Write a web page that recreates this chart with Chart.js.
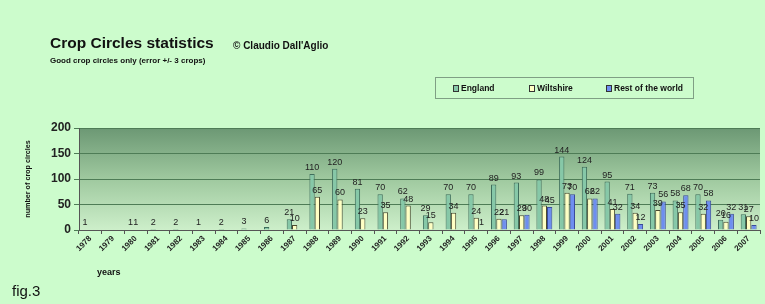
<!DOCTYPE html>
<html>
<head>
<meta charset="utf-8">
<script src="https://cdn.jsdelivr.net/npm/chart.js@4/dist/chart.umd.min.js"></script>
<style>
  html, body { margin: 0; padding: 0; background: #ccfccc; }
  body { width: 765px; height: 304px; position: relative; overflow: hidden; font-family: "Liberation Sans", Arial, sans-serif; }
  #c { position: absolute; left: 0; top: 0; }
  .t { position: absolute; white-space: nowrap; color: #111; font-weight: bold; }
  #legend { position: absolute; left: 435px; top: 77px; width: 259px; height: 22px; border: 1px solid #7f9f84; box-sizing: border-box; }
  .li { position: absolute; top: 5px; font-size: 8.5px; font-weight: bold; color: #111; white-space: nowrap; }
  .sw { display: inline-block; width: 4px; height: 5px; border: 1px solid #333; margin-right: 2px; vertical-align: -1px; }
</style>
</head>
<body>
<canvas id="c" width="765" height="304"></canvas>
<div class="t" style="left:50px; top:34px; font-size:15.5px;">Crop Circles statistics</div>
<div class="t" style="left:233px; top:40px; font-size:10px;">© Claudio Dall'Aglio</div>
<div class="t" style="left:50px; top:56px; font-size:8px;">Good crop circles only (error +/- 3 crops)</div>
<div id="legend">
  <div class="li" style="left:17px;"><span class="sw" style="background:#86c8a8"></span>England</div>
  <div class="li" style="left:93px;"><span class="sw" style="background:#ffffc4"></span>Wiltshire</div>
  <div class="li" style="left:170px;"><span class="sw" style="background:#6e8ef0"></span>Rest of the world</div>
</div>
<div class="t" style="left:97px; top:267px; font-size:9px;">years</div>
<div class="t" style="left:12px; top:282px; font-size:15px; font-weight:normal;">fig.3</div>
<script>
const years = ["1978","1979","1980","1981","1982","1983","1984","1985","1986","1987","1988","1989","1990","1991","1992","1993","1994","1995","1996","1997","1998","1999","2000","2001","2002","2003","2004","2005","2006","2007"];
const england   = [1,0,1,2,2,1,2,3,6,21,110,120,81,70,62,29,70,70,89,93,99,144,124,95,71,73,58,70,20,31];
const wiltshire = [0,0,1,0,0,0,0,0,0,10,65,60,23,35,48,15,34,24,22,29,48,73,62,41,34,39,35,32,16,27];
const restWorld = [0,0,0,0,0,0,0,0,0,0,0,0,0,0,0,0,0,1,21,30,45,70,62,32,12,56,68,58,32,10];
const yTicks = [0,50,100,150,200];

const bgPlugin = {
  id: 'bg',
  beforeDraw(chart) {
    const a = chart.chartArea, ctx = chart.ctx;
    const g = ctx.createLinearGradient(0, a.top, 0, a.bottom);
    g.addColorStop(0, '#6c9874');
    g.addColorStop(0.5, '#9fc99f');
    g.addColorStop(1, '#cdefca');
    ctx.save();
    ctx.fillStyle = g;
    ctx.fillRect(a.left, a.top, a.right - a.left, a.bottom - a.top);
    ctx.restore();
  }
};
const labelPlugin = {
  id: 'vals',
  afterDatasetsDraw(chart) {
    const ctx = chart.ctx;
    ctx.save();
    ctx.font = '9px "Liberation Sans", Arial, sans-serif';
    ctx.fillStyle = '#222';
    ctx.textAlign = 'center';
    ctx.textBaseline = 'bottom';
    chart.data.datasets.forEach((ds, i) => {
      chart.getDatasetMeta(i).data.forEach((bar, j) => {
        const v = ds.data[j];
        if (v > 0) ctx.fillText(String(v), bar.x, bar.y - 2);
      });
    });
    ctx.restore();
  }
};

new Chart(document.getElementById('c'), {
  type: 'bar',
  data: {
    labels: years,
    datasets: [
      { label: 'England', data: england, backgroundColor: '#86c8a8', borderColor: '#3f6e5c', borderWidth: 1 },
      { label: 'Wiltshire', data: wiltshire, backgroundColor: '#ffffc4', borderColor: '#4a4a30', borderWidth: 1 },
      { label: 'Rest of the world', data: restWorld, backgroundColor: '#6e8ef0', borderColor: '#3a4a9a', borderWidth: 1 }
    ]
  },
  options: {
    responsive: false,
    animation: false,
    devicePixelRatio: 1,
    layout: { padding: { top: 128, right: 5, left: 0, bottom: 0 } },
    datasets: { bar: { categoryPercentage: 0.70, barPercentage: 1 } },
    plugins: { legend: { display: false }, tooltip: { enabled: false } },
    scales: {
      x: {
        grid: { drawOnChartArea: false, tickLength: 4, color: '#555' },
        border: { color: '#555' },
        ticks: { minRotation: 45, maxRotation: 45, autoSkip: false, padding: 0, color: '#222',
                 font: { family: '"Liberation Sans", Arial, sans-serif', size: 8, weight: 'bold' } },
        afterFit(s) { s.height = 74; }
      },
      y: {
        min: 0, max: 200,
        afterBuildTicks(s) { s.ticks = yTicks.map(v => ({ value: v })); },
        grid: { color: '#4e7c56', tickLength: 5 },
        border: { color: '#555' },
        ticks: { padding: 3, color: '#222', font: { family: '"Liberation Sans", Arial, sans-serif', size: 12, weight: 'bold' } },
        title: { display: true, text: 'number of crop circles', color: '#111', padding: { top: 24, bottom: 0 },
                 font: { family: '"Liberation Sans", Arial, sans-serif', size: 7.2, weight: 'bold' } },
        afterFit(s) { s.width = 79; }
      }
    }
  },
  plugins: [bgPlugin, labelPlugin]
});
</script>
</body>
</html>
